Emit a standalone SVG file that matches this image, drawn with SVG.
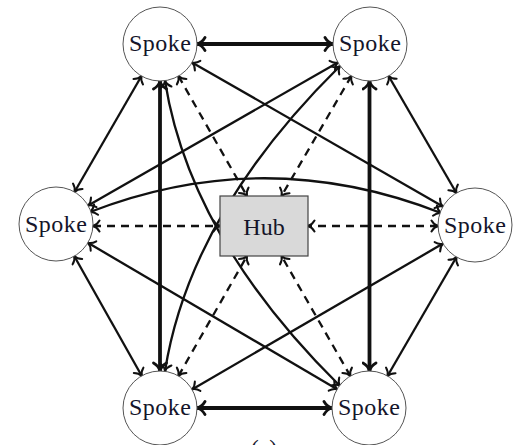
<svg xmlns="http://www.w3.org/2000/svg" width="516" height="445" viewBox="0 0 516 445">
<defs>
<marker id="ah" viewBox="-9 -7 10 14" refX="0" refY="0" markerWidth="10" markerHeight="14" markerUnits="userSpaceOnUse" orient="auto-start-reverse">
<path d="M-6.5,-5.5 C-4.6,-2.2 -2.2,-0.6 0,0 C-2.2,0.6 -4.6,2.2 -6.5,5.5" fill="none" stroke="#111" stroke-width="2" stroke-linecap="round" stroke-linejoin="round"/>
</marker>
<marker id="ahT" viewBox="-11 -8 12 16" refX="0" refY="0" markerWidth="12" markerHeight="16" markerUnits="userSpaceOnUse" orient="auto-start-reverse">
<path d="M-8,-6.5 C-5.8,-2.6 -2.6,-0.7 0,0 C-2.6,0.7 -5.8,2.6 -8,6.5" fill="none" stroke="#111" stroke-width="2.8" stroke-linecap="round" stroke-linejoin="round"/>
</marker>
<style>
.e{fill:none;stroke:#111;stroke-width:2.3;marker-start:url(#ah);marker-end:url(#ah)}
.t{fill:none;stroke:#111;stroke-width:3.8;marker-start:url(#ahT);marker-end:url(#ahT)}
.d{fill:none;stroke:#111;stroke-width:2.3;stroke-dasharray:8 6;marker-start:url(#ah);marker-end:url(#ah)}
.n{fill:#fff;stroke:#555;stroke-width:1}
.h{fill:#d9d9d9;stroke:#444;stroke-width:1.2}
.l{font-family:"Liberation Serif","Times New Roman",serif;font-size:24px;fill:#15152a;text-anchor:middle}
</style>
</defs>
<g id="connectors">
<line class="t" x1="197" y1="44" x2="333" y2="44"/>
<line class="t" x1="197" y1="408" x2="332" y2="408"/>
<line class="t" x1="160" y1="81" x2="160" y2="371"/>
<line class="t" x1="369.5" y1="81" x2="369.5" y2="371"/>
<line class="e" x1="141.5" y1="76" x2="74.5" y2="192"/>
<line class="e" x1="388.6" y1="76" x2="456.4" y2="193"/>
<line class="e" x1="74.2" y1="256" x2="141.8" y2="376"/>
<line class="e" x1="456.5" y1="257" x2="387.5" y2="376"/>
<line class="e" x1="192" y1="62.4" x2="442.9" y2="206.6"/>
<line class="e" x1="337.9" y1="62.4" x2="88.1" y2="205.6"/>
<line class="e" x1="87.9" y1="242.8" x2="337.1" y2="389.2"/>
<line class="e" x1="192" y1="389.4" x2="443" y2="243.6"/>
<path class="e" d="M90,212 Q265,144 441,213"/>
<path class="e" d="M165,81 Q190,238 340,386"/>
<path class="e" d="M165,371 Q190,214 340,66"/>
<line class="d" x1="93" y1="226" x2="220" y2="226"/>
<line class="d" x1="438" y1="226" x2="308" y2="226"/>
<line class="d" x1="178.4" y1="76" x2="247" y2="196"/>
<line class="d" x1="351.4" y1="76" x2="281.5" y2="196"/>
<line class="d" x1="178.4" y1="376" x2="247" y2="256"/>
<line class="d" x1="350.4" y1="376" x2="281.5" y2="256"/>
</g>
<g id="spoke-tl"><circle class="n" cx="160" cy="44" r="37"/><text class="l" x="160" y="51" textLength="62">Spoke</text></g>
<g id="spoke-tr"><circle class="n" cx="370" cy="44" r="37"/><text class="l" x="370" y="51" textLength="62">Spoke</text></g>
<g id="spoke-l"><circle class="n" cx="56" cy="224" r="37"/><text class="l" x="56" y="232" textLength="62">Spoke</text></g>
<g id="spoke-r"><circle class="n" cx="475" cy="225" r="37"/><text class="l" x="475" y="233" textLength="62">Spoke</text></g>
<g id="spoke-bl"><circle class="n" cx="160" cy="408" r="37"/><text class="l" x="160" y="415" textLength="62">Spoke</text></g>
<g id="spoke-br"><circle class="n" cx="369" cy="408" r="37"/><text class="l" x="369" y="415" textLength="62">Spoke</text></g>
<g id="hub"><rect class="h" x="220" y="196" width="88" height="60"/><text class="l" x="264" y="235">Hub</text></g>
<text class="l" x="264" y="456">(a)</text>
</svg>
